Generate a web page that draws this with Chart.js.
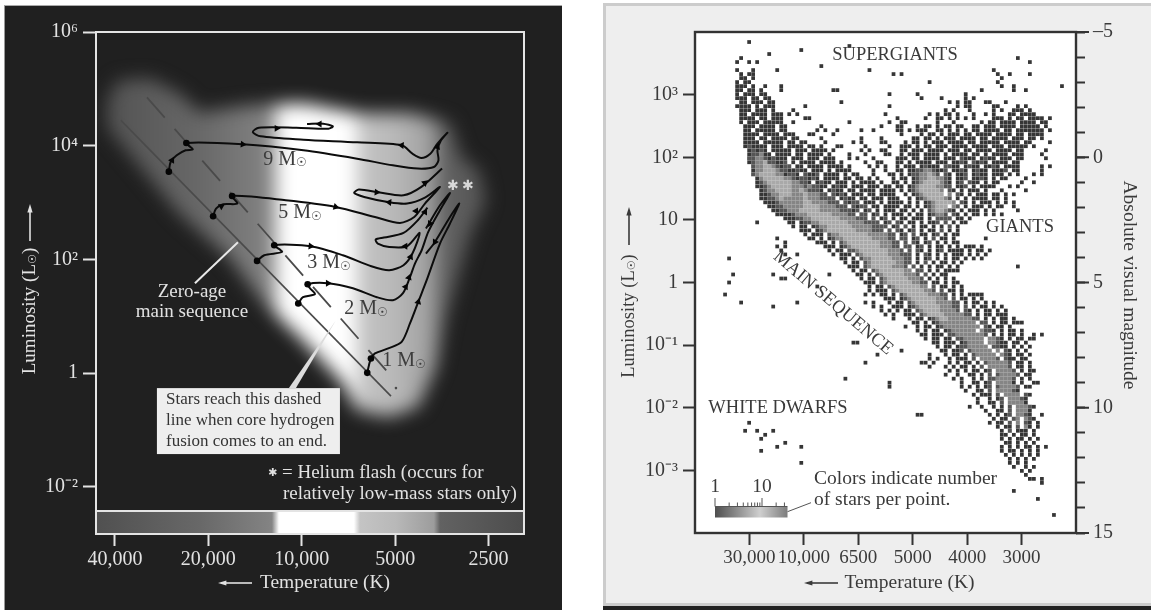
<!DOCTYPE html>
<html>
<head>
<meta charset="utf-8">
<title>HR diagrams</title>
<script src="https://cdn.jsdelivr.net/npm/chart.js@4"></script>
<style>
  html, body { margin: 0; padding: 0; background: #fff; width: 1151px; height: 610px; overflow: hidden; }
  .panel { position: absolute; box-sizing: border-box; }
  #darkPanel { left: 4px; top: 5px; width: 558px; height: 605px; background: #202020; border-left: 1px solid #999; border-top: 1px solid #aaa; }
  #lightPanel { left: 603px; top: 3px; width: 548px; height: 603px; background: #eee; border-left: 3px solid #ccc; border-top: 3px solid #ccc; border-bottom: 3px solid #ccc; }
  #bottomEdge { left: 603px; top: 606px; width: 548px; height: 4px; background: #222; }
  canvas { position: absolute; top: 0; filter: blur(0.55px); }
  #leftChart { left: 0; }
  #rightChart { left: 575px; }
</style>
</head>
<body>
<div class="panel" id="darkPanel"></div>
<div class="panel" id="lightPanel"></div>
<div class="panel" id="bottomEdge"></div>
<canvas id="leftChart" width="575" height="610" style="width:575px;height:610px"></canvas>
<canvas id="rightChart" width="576" height="610" style="width:576px;height:610px"></canvas>
<script>
// ---- left chart data, all in log10(T) and log10(L) ----
const tempTicksLeft = [40000, 20000, 10000, 5000, 2500];
const tempLabelsLeft = ['40,000', '20,000', '10,000', '5000', '2500'];
const lumTicksLeft = [1e6, 1e4, 1e2, 1, 1e-2];
const lumLabelsLeft = ['10⁶', '10⁴', '10²', '1', '10⁻²'];

const track9T = [4.4283,4.4225,4.4029,4.3742,4.3511,4.3719,4.1900,3.9943,3.8217,3.7066,3.6260,3.5742,3.5593,3.5627,3.5512,3.5305,3.5627,3.5857,3.6145,3.6433,3.6778,3.8217,3.9943,4.1325,4.1578,4.1383,4.0174,3.9138,3.8999,3.9310,3.9829];
const track9L = [3.544,3.714,3.831,3.919,3.936,4.048,4.024,3.919,3.772,3.655,3.597,3.626,3.743,3.919,4.095,4.229,4.036,3.860,3.784,3.860,4.007,4.059,4.106,4.165,4.241,4.317,4.317,4.300,4.341,4.388,4.382];
const track5T = [4.2856,4.2763,4.2533,4.2073,4.2245,4.0519,3.8908,3.7641,3.6836,3.6375,3.6030,3.5547,3.6030,3.6606,3.7181,3.7987,3.8309,3.8159,3.7526,3.6721,3.6145,3.5478];
const track5L = [2.759,2.894,2.970,2.982,3.116,3.040,2.923,2.747,2.642,2.747,2.982,3.275,3.087,2.982,3.005,3.099,3.169,3.228,3.181,3.128,3.275,3.597];
const track3T = [4.1440,4.1209,4.0634,4.0887,3.9713,3.8677,3.7757,3.7181,3.6721,3.6433,3.6202,3.6606,3.7181,3.7549,3.7618,3.7354,3.6721,3.6260,3.5950];
const track3L = [1.974,2.074,2.132,2.249,2.232,2.074,1.880,1.810,1.898,2.103,2.466,2.232,2.220,2.279,2.349,2.384,2.466,2.689,2.911];
const track2T = [4.0113,3.9961,3.9574,3.9736,3.9810,3.9156,3.8350,3.7576,3.7061,3.6738,3.6513,3.6352,3.6136,3.5923,3.5546,3.5223,3.5546,3.5997];
const track2L = [1.224,1.335,1.388,1.493,1.564,1.581,1.493,1.335,1.283,1.406,1.687,1.927,2.161,2.483,2.864,3.168,2.952,2.543];
const track1T = [3.7889,3.7834,3.7770,3.7641,3.7212,3.6780,3.6513,3.6245,3.5974,3.5546,3.5223,3.4924,3.5223,3.5707,3.5997];
const track1L = [0.005,0.140,0.258,0.346,0.434,0.550,0.873,1.253,1.634,2.279,2.631,2.982,2.747,2.307,2.101];

const dotT = [4.4283,4.3719,4.2856,4.2245,4.1440,4.0887,4.0113,3.9810,3.7889,3.7770];
const dotL = [3.544,4.048,2.759,3.116,1.974,2.249,1.224,1.564,0.005,0.258];

const arrowT = [4.190,3.678,4.0807,3.9425,3.5627,4.4179,3.8908,3.7584,3.7181,3.6030,3.6318,4.2591,3.9713,3.6663,3.6490,3.6029,3.9156,3.6651,3.6245,3.5868,3.5707,3.6545];
const arrowL = [4.024,4.007,4.305,4.382,3.977,3.743,2.923,3.181,3.005,3.345,2.853,2.935,2.232,2.232,2.044,2.834,1.581,1.517,1.253,2.631,2.307,1.681];
const arrowAngle = [95,275,90,270,20,30,105,95,275,50,30,60,95,270,25,30,90,30,15,210,210,20];

const zamsT = [4.5827, 3.7125];
const zamsL = [4.446, -0.405];
const endMsT = [4.4989, 3.7105];
const endMsL = [4.850, -0.06];
const endDotT = [3.6964];
const endDotL = [-0.264];
const leaderT = [4.2056, 4.3442];
const leaderL = [2.302, 1.581];

const massNames = ['9', '5', '3', '2', '1'];
const massT = [4.0541, 4.0058, 3.9123, 3.7931, 3.6706];
const massL = [3.761, 2.812, 1.933, 1.124, 0.210];
const flashT = [3.5127, 3.4643];
const flashL = [3.286, 3.286];

// outline of the lit band behind the tracks
const bandT = [4.628,4.592,4.489,4.396,4.328,4.167,3.993,3.822,3.648,3.522,3.487,3.429,3.406,3.455,3.535,3.567,3.625,3.719,3.822,3.867,4.006,4.122,4.235,4.396,4.512,4.628];
const bandL = [4.798,5.149,5.184,4.921,4.587,4.710,4.745,4.569,4.569,4.393,3.796,3.567,3.040,2.460,0.984,0.105,-0.598,-0.774,-0.651,-0.176,0.632,1.230,2.038,2.812,3.567,4.323];
// brightness along the temperature axis
const shadeT = [4.663,4.328,4.109,4.096,4.0735,3.8318,3.8124,3.6964,3.574,3.5546,3.284];
const shadeGray = [80,104,130,133,255,255,196,184,156,98,76];

const boxText = ['Stars reach this dashed', 'line when core hydrogen', 'fusion comes to an end.'];

// ---- right chart data ----
const tempLabelsRight = ['30,000', '10,000', '6500', '5000', '4000', '3000'];
const lumTicksRight = [1e3, 1e2, 10, 1, 0.1, 0.01, 0.001];
const lumLabelsRight = ['10³', '10²', '10', '1', '10⁻¹', '10⁻²', '10⁻³'];
const magLabels = { '-5': '–5', '0': '0', '5': '5', '10': '10', '15': '15' };
const legendCounts = [1,2,3,4,5,6,7,8,9,10,20,30];

// stars per point, binned: [row, first column, counts by column]
// 95 columns over the colour axis, 125 rows over log L, top row first
const binCols = 95, binRows = 125;
const densityBins = [
[2,13,'1'],[3,38,'1'],[4,26,'1'],[5,18,'1'],[6,11,'1'],[6,80,'1'],[7,10,'1'],[7,13,'1 1'],[7,83,'1'],[8,31,'1'],
[9,10,'1'],[9,14,'1'],[9,20,'1'],[9,43,'1'],[9,74,'1'],[10,11,'1 11'],[10,49,'1 1'],[10,75,'1  1'],[10,83,'1'],
[11,11,'11 1'],[11,76,'1'],[12,10,'1 11'],[12,58,'1'],[12,75,'1'],[13,10,'111 1  1'],[13,21,'1'],[13,76,'1'],[13,79,'1'],[13,91,'1'],
[14,10,'11 11 1'],[14,21,'1'],[14,34,'11'],[14,71,'1'],[14,79,'1'],[14,82,'1'],[15,10,'1 111 11'],[15,48,'1'],[15,55,'1'],[15,67,'1'],
[16,10,'111 11 11'],[16,56,'1'],[16,61,'1'],[16,67,'1'],[16,69,'1'],[17,11,'11 111 11'],[17,36,'1'],[17,63,'1'],[17,65,'1 11'],[17,72,'11'],[17,77,'1'],
[18,10,'1111 1 111'],[18,27,'1'],[18,48,'1'],[18,65,'1 11'],[18,74,'11'],[18,80,'1 1'],[19,11,'111 111 1'],[19,24,'1'],[19,62,'1 1'],[19,68,'1'],[19,74,'1 1'],[19,79,'111 1'],
[20,11,'11 1111 111'],[20,23,'1 1'],[20,47,'1'],[20,58,'1 1'],[20,62,'11 1'],[20,69,'1'],[20,72,'1 1'],[20,78,'11 1111'],
[21,11,'1111 11 111'],[21,27,'11'],[21,50,'1'],[21,57,'1'],[21,60,'11 1 1'],[21,67,'1 1'],[21,74,'111 1 11 1111 1'],
[22,11,'1 111 11111'],[22,24,'1'],[22,38,'1'],[22,48,'1'],[22,51,'11'],[22,60,'1'],[22,64,'1'],[22,71,'1 11 1111 1111 11'],
[23,12,'111 1111 11'],[23,31,'1'],[23,46,'1'],[23,50,'11'],[23,55,'1 11'],[23,60,'1 11 1'],[23,66,'1'],[23,69,'11 111 1111 11111 1'],
[24,12,'11 11111 11'],[24,30,'1 1'],[24,35,'1'],[24,41,'1'],[24,44,'1'],[24,50,'11'],[24,53,'1 111'],[24,60,'11 1'],[24,65,'1 1 11 1111 11 1111111 1'],
[25,12,'1111 1111 111'],[25,28,'11'],[25,34,'1'],[25,51,'1'],[25,56,'1 11 1 111 11 1111 1111 11 1111'],
[26,12,'111 11 1111 11'],[26,31,'1'],[26,41,'1'],[26,46,'1'],[26,54,'11 11 1 111 1111 11 1111 111 11 1'],
[27,12,'1111 11111 11 11'],[27,32,'1'],[27,39,'1 1'],[27,46,'11'],[27,52,'1 11 1 111 1111 11 11111 1111 11'],[27,88,'1'],
[28,12,'121111 111 1111 11 1'],[28,35,'11'],[28,42,'1'],[28,48,'1'],[28,51,'111 1 11 111 1111 1111 111 11111 1'],
[29,13,'12121 11111 111 1111'],[29,34,'1'],[29,41,'1 1'],[29,46,'11'],[29,51,'11 111 1111 111 11 1111 1111 11'],[29,87,'1'],
[30,13,'122311 1111 11 1111 1'],[30,38,'1'],[30,42,'1'],[30,47,'11'],[30,51,'1 111 1111 1 1111 11 1 1111 111'],[30,86,'1'],
[31,13,'2233212111 111 111 111'],[31,38,'1 1'],[31,44,'1'],[31,50,'111 11 1111 111 2111 1211 111 11'],[31,87,'1'],
[32,13,'1233422112 1 1111 1111 1'],[32,42,'1'],[32,45,'11'],[32,50,'11 1 1111 111 1121 2121 1111 11'],
[33,14,'2334432122 11 1111 1111 1'],[33,43,'1'],[33,45,'1 1'],[33,50,'1 111 12111 2211 1211 1121 1111'],[33,86,'1 1'],
[34,14,'13344432211211 111 1 1111'],[34,44,'1'],[34,47,'1'],[34,50,'11 1122332112 1121 1211 1112 11'],[34,86,'1'],
[35,14,'234444331221 2112 1111 1 11'],[35,44,'1'],[35,48,'11'],[35,51,'1 12233432 21 112 1211 111 1 1'],[35,84,'1 1'],
[36,15,'1344444332122121 1111 11 11'],[36,43,'1 1'],[36,49,'1 11 1233443321 112 1121 1 11'],[36,82,'1'],
[37,15,'12344444433221 1211 111 1 1111'],[37,46,'1'],[37,49,'11 1 1234444321 12 211 1 11'],[37,81,'1'],[37,84,'1'],
[38,15,'112344444333232211 1211 111 111 1'],[38,48,'1 11 12344443322 112 1 1111'],[38,78,'1 1'],
[39,16,'1233444433432221 1211 11 1111 11'],[39,48,'11 1 123444443 21 1 111 1'],[39,76,'1'],[39,82,'1'],
[40,16,'11233444333433322 2121 111 11 1111'],[40,52,'1 12344444 3 21 1 111 11'],[40,77,'1 1'],
[41,16,'1122343333343332222 1211 11 111 111'],[41,53,'1 123444432 1 1 1111 1'],[41,75,'1 1'],
[42,17,'1112333333443333222 2122 111 1 1111 1'],[42,55,'1 12344443 21 1 111 1'],[42,77,'1 1'],
[43,18,'11223333344443333222 2122 11 1111 11 1'],[43,57,'123444 32 1 111 1 11'],[43,79,'1'],
[44,19,'1122333444443333322212 12 1 111 11 1 1 2344321 1 111 1 1'],[44,80,'1'],
[45,20,'11112333444444333322 22 12 1 111 1 11 12332 21 1 11 1 1'],[45,76,'1'],
[46,22,'111223344444443333222 2 12 1 11 111 1 2222 11 1'],
[47,15,'1'],[47,23,'11 12233444444433332222 12 21 11 1 112 2 1 11'],
[48,24,'1 11 1233444444333332222 12 2 1 11 1 1 2 1'],
[49,26,'111 12344444443333222 2 21 12 1 11 2 1 1'],
[50,27,'1 111 23344444443333322 12 2 11 12 1 11'],
[51,20,'1'],[51,28,'11 1 12334444444333322 22 12 1 2 11 1'],[51,72,'1'],
[52,22,'1'],[52,30,'111 1 234444444433322 2 21 12 1 1 11'],
[53,20,'1 1'],[53,32,'111 123444444433322 22 12 1 11 1 1 111 1'],
[54,21,'1'],[54,33,'1 11 22344444443332 2 21 1 12 1 11 1 11 1'],[54,64,'1 1'],
[55,22,'1  1'],[55,34,'1 111 23444444333222 1 21 1 1 111 1 1 1'],
[56,8,'1'],[56,36,'11 1 2334444433322 1 12 1 1 11 1 1 1'],
[57,37,'1 11 234444443322 1 2 1 11 1 1'],
[58,38,'111 23444443332 2 1 1 11 1 1'],[58,80,'1'],
[59,39,'1 11 2344444433 22 1 1 11 1'],[59,64,'1'],
[60,9,'1'],[60,19,'1'],[60,33,'1'],[60,40,'11 1 23444443332 2 1 11'],[60,62,'1'],
[61,21,'11'],[61,41,'1 11 23444443332 1 1 1 1'],
[62,8,'1'],[62,42,'111 234444443322 11 1 1'],[62,65,'1'],
[63,30,'1'],[63,43,'1 11 2344444433 2 11 1 1'],
[64,43,'1 111 23444444332 2 11 1'],[64,66,'1'],
[65,7,'1'],[65,42,'1 1'],[65,46,'11 1 234444433322 1 1 11 1'],[65,70,'1'],
[66,47,'111 123444444332 2 11 1 1'],
[67,11,'1'],[67,25,'1'],[67,42,'1 1'],[67,48,'1 11 2344444333322 1 11 1 1'],
[68,19,'1'],[68,44,'1 1'],[68,49,'111 1234444433322 2 1 11 1 1'],
[69,46,'1 1'],[69,50,'1 11 23444433332 21 1 11 1 1'],
[70,47,'1 1'],[70,52,'111 2344443333322 1 11 1 1'],[70,76,'1'],
[71,49,'1'],[71,53,'1 11 1234433333322 1 1 11 1'],[71,76,'1'],
[72,54,'11 1 12333333333 22 1 11 1'],[72,80,'11'],
[73,52,'1'],[73,55,'1 11 12333333333 21 11 1'],
[74,55,'1 1 11 12333333 3221 1 11 1'],
[75,56,'11 111 2233333332 1 1 11 1'],[75,84,'1 1'],
[76,57,'1 11 11 2233333 3321 1 11 1'],[76,84,'1'],
[77,39,'11'],[77,59,'11 111 123333 33211 11 1'],
[78,60,'1 11 12233333 2211 1 1'],[78,83,'1'],
[79,51,'1'],[79,61,'11 112 233333 3 21 1 1'],
[80,45,'1'],[80,58,'1'],[80,62,'1 11 1 233333 321 11 1'],
[81,58,'1 1'],[81,63,'1 111 2 33332 211 11'],[81,78,'1'],
[82,42,'1'],[82,56,'11'],[82,59,'1'],[82,63,'1 1'],[82,67,'11 1 2333332 11 1'],
[83,58,'1'],[83,62,'1 1'],[83,66,'11 1 2 333332 11 1'],
[84,63,'1 1'],[84,67,'1 11 12 33332 1 11'],
[85,62,'1'],[85,65,'1'],[85,68,'11 1 2 233332 11'],
[86,37,'1'],[86,64,'1 1'],[86,69,'1 1 2233332 1 1'],
[87,48,'1'],[87,66,'1'],[87,69,'11 12 33331 1'],[87,84,'11'],
[88,48,'1'],[88,66,'1 1'],[88,70,'1 12 233332 11'],
[89,67,'1'],[89,70,'11 2 333321'],
[90,69,'1 1'],[90,72,'11 2 3333 21'],
[91,70,'1'],[91,73,'1 12 33321'],
[92,70,'1'],[92,73,'11 2 33331'],
[93,68,'1'],[93,71,'1'],[93,74,'1 1 2 33321'],
[94,72,'1'],[94,75,'11 2 3331'],
[95,55,'11'],[95,73,'1'],[95,75,'1 12 3321'],[95,86,'1'],
[96,74,'1 11 23 321'],
[97,13,'1'],[97,73,'1'],[97,75,'11 2 3 21 1'],
[98,75,'1 11 2 31 1'],
[99,12,'1'],[99,15,'1'],[99,19,'1'],[99,76,'1 2 111 1'],
[100,17,'1'],[100,76,'11 1 11 1'],
[101,16,'1'],[101,76,'1 1 11 1 1'],
[102,22,'1'],[102,77,'11 1 1 1'],
[103,20,'1'],[103,26,'1'],[103,76,'1 1 1 11 1 1'],
[104,16,'1'],[104,76,'1 11 1 1 1'],
[105,77,'1 1 1 1 1'],
[106,78,'1 1 1 1'],
[107,26,'1'],[107,78,'1 1 1'],
[108,79,'1'],[108,82,'1'],[108,84,'1'],
[109,81,'1'],[109,83,'1'],
[110,82,'1'],
[111,83,'11 1'],
[112,86,'1'],
[114,79,'1'],
[116,85,'1'],
[120,89,'1']
];

// ---- helpers ----
const serif = '"Liberation Serif", serif';
const sun = '"DejaVu Sans", sans-serif';
const unlog = (t, l) => t.map((v, i) => ({ x: 10 ** v, y: 10 ** l[i] }));

function trackSet(t, l) {
  return { data: unlog(t, l), showLine: true, borderColor: '#0c0c0c', borderWidth: 2, tension: 0.28, pointRadius: 0 };
}

// text made of several fonts on one line, centred or left aligned at x,y
function drawRuns(ctx, runs, x, y, opts) {
  const o = opts || {};
  ctx.save();
  ctx.translate(x, y);
  if (o.rot) ctx.rotate(o.rot);
  ctx.textBaseline = 'middle';
  ctx.textAlign = 'left';
  ctx.fillStyle = o.color || '#333';
  let w = 0;
  runs.forEach(r => { ctx.font = r.font; w += ctx.measureText(r.t).width; });
  let px = o.left ? 0 : -w / 2;
  runs.forEach(r => {
    ctx.font = r.font;
    ctx.fillText(r.t, px, r.dy || 0);
    px += ctx.measureText(r.t).width;
  });
  ctx.restore();
}

function drawArrow(ctx, x1, y1, x2, y2, color) {
  const a = Math.atan2(y2 - y1, x2 - x1);
  ctx.strokeStyle = color;
  ctx.fillStyle = color;
  ctx.lineWidth = 1.6;
  ctx.beginPath(); ctx.moveTo(x1, y1); ctx.lineTo(x2, y2); ctx.stroke();
  ctx.beginPath();
  ctx.moveTo(x2 + 3 * Math.cos(a), y2 + 3 * Math.sin(a));
  ctx.lineTo(x2 - 6 * Math.cos(a - 0.45), y2 - 6 * Math.sin(a - 0.45));
  ctx.lineTo(x2 - 6 * Math.cos(a + 0.45), y2 - 6 * Math.sin(a + 0.45));
  ctx.closePath(); ctx.fill();
}

function logAxisFixed(values, labels, extra) {
  return Object.assign({
    type: 'logarithmic',
    border: { display: false },
    afterBuildTicks: s => { s.ticks = values.map(v => ({ value: v })); },
  }, extra, {
    ticks: Object.assign({ autoSkip: false, maxRotation: 0, callback: (v, i) => labels[i] }, extra.ticks),
  });
}

// ---- left chart ----
const leftPaint = {
  id: 'leftPaint',
  beforeDatasetsDraw(chart) {
    const { ctx, chartArea: a, scales: { x, y } } = chart;
    const px = t => x.getPixelForValue(10 ** t);
    const py = l => y.getPixelForValue(10 ** l);
    const stripTop = py(-2.426);
    const grad = ctx.createLinearGradient(a.left, 0, a.right, 0);
    shadeT.forEach((t, i) => {
      const g = shadeGray[i];
      grad.addColorStop(Math.min(1, Math.max(0, (px(t) - a.left) / (a.right - a.left))), `rgb(${g},${g},${g})`);
    });

    ctx.save();
    ctx.beginPath(); ctx.rect(a.left, a.top, a.right - a.left, stripTop - a.top); ctx.clip();
    ctx.filter = 'blur(9px)';
    ctx.fillStyle = grad;
    ctx.beginPath();
    bandT.forEach((t, i) => { i ? ctx.lineTo(px(t), py(bandL[i])) : ctx.moveTo(px(t), py(bandL[i])); });
    ctx.closePath(); ctx.fill();
    ctx.restore();

    // temperature strip and white frame
    ctx.fillStyle = grad;
    ctx.fillRect(a.left, stripTop, a.right - a.left, a.bottom - stripTop);
    ctx.strokeStyle = '#e4e4e4';
    ctx.lineWidth = 2;
    ctx.strokeRect(a.left, a.top, a.right - a.left, a.bottom - a.top);
    ctx.beginPath(); ctx.moveTo(a.left, stripTop); ctx.lineTo(a.right, stripTop); ctx.stroke();
  },
  afterDatasetsDraw(chart) {
    const { ctx, scales: { x, y } } = chart;
    const px = t => x.getPixelForValue(10 ** t);
    const py = l => y.getPixelForValue(10 ** l);

    // pointer from the dashed line down to the note
    ctx.fillStyle = '#dcdcdc';
    ctx.beginPath();
    ctx.moveTo(px(3.8898), py(0.931));
    ctx.lineTo(px(4.0187), py(-0.264));
    ctx.lineTo(px(4.0413), py(-0.264));
    ctx.closePath(); ctx.fill();

    const bx = px(4.4667), by = py(-0.264);
    ctx.fillStyle = '#eeeeee';
    ctx.fillRect(bx, by, px(3.8769) - bx, py(-1.424) - by);
    boxText.forEach((line, i) => {
      drawRuns(ctx, [{ t: line, font: '17px ' + serif }], 166, 400 + i * 20.7, { left: true, color: '#333' });
    });

    massNames.forEach((m, i) => {
      drawRuns(ctx, [{ t: m + ' M', font: '20px ' + serif }, { t: '☉', font: '12px ' + sun, dy: 4 }], px(massT[i]), py(massL[i]), { color: '#3c3c3c' });
    });
    flashT.forEach((t, i) => {
      drawRuns(ctx, [{ t: '✱', font: '14px ' + sun }], px(t), py(flashL[i]), { color: '#d8d8d8' });
    });

    const white = '#e2e2e2';
    drawRuns(ctx, [{ t: 'Zero-age', font: '19px ' + serif }], 192, 292, { color: white });
    drawRuns(ctx, [{ t: 'main sequence', font: '19px ' + serif }], 192, 312, { color: white });
    drawRuns(ctx, [{ t: '✱', font: '11px ' + sun }, { t: ' = Helium flash (occurs for', font: '19px ' + serif }], 268, 473, { left: true, color: white });
    drawRuns(ctx, [{ t: 'relatively low-mass stars only)', font: '19px ' + serif }], 283, 494, { left: true, color: white });

    drawRuns(ctx, [{ t: 'Luminosity (L', font: '19px ' + serif }, { t: '☉', font: '11px ' + sun, dy: 3 }, { t: ')', font: '19px ' + serif }], 30, 311, { rot: -Math.PI / 2, color: white });
    drawArrow(ctx, 30, 241, 30, 207, white);
    drawRuns(ctx, [{ t: 'Temperature (K)', font: '19.5px ' + serif }], 325, 583, { color: white });
    drawArrow(ctx, 252, 583, 221, 583, white);
  },
};

new Chart(document.getElementById('leftChart'), {
  type: 'scatter',
  data: {
    datasets: [
      { data: unlog(dotT, dotL), pointRadius: 3.3, pointBackgroundColor: '#050505', pointBorderWidth: 0 },
      { data: unlog(arrowT, arrowL), pointStyle: 'triangle', pointRadius: 4, rotation: arrowAngle, pointBackgroundColor: '#050505', pointBorderWidth: 0 },
      trackSet(track9T, track9L),
      trackSet(track5T, track5L),
      trackSet(track3T, track3L),
      trackSet(track2T, track2L),
      trackSet(track1T, track1L),
      { data: unlog(zamsT, zamsL), showLine: true, borderColor: '#4a4a4a', borderWidth: 1.6, pointRadius: 0 },
      { data: unlog(endMsT, endMsL), showLine: true, borderColor: '#4a4a4a', borderWidth: 1.8, borderDash: [27, 15], pointRadius: 0 },
      { data: unlog(endDotT, endDotL), pointRadius: 1.3, pointBackgroundColor: '#4a4a4a', pointBorderWidth: 0 },
      { data: unlog(leaderT, leaderL), showLine: true, borderColor: '#e8e8e8', borderWidth: 2, pointRadius: 0 },
    ],
  },
  options: {
    responsive: false,
    animation: false,
    events: [],
    layout: { padding: { top: 32, right: 51 } },
    plugins: { legend: { display: false }, tooltip: { enabled: false } },
    scales: {
      x: logAxisFixed(tempTicksLeft, tempLabelsLeft, {
        reverse: true,
        min: 10 ** 3.2838,
        max: 10 ** 4.663,
        afterFit: s => { s.height = 76; },
        grid: { drawOnChartArea: false, color: '#e4e4e4', tickColor: '#e4e4e4', tickLength: 12, tickWidth: 2 },
        ticks: { color: '#e2e2e2', padding: 2, font: { family: 'Liberation Serif', size: 20 } },
      }),
      y: logAxisFixed(lumTicksLeft, lumLabelsLeft, {
        min: 10 ** -2.83,
        max: 1e6,
        afterFit: s => { s.width = 96; },
        grid: { drawOnChartArea: false, color: '#e4e4e4', tickColor: '#e4e4e4', tickLength: 13, tickWidth: 2 },
        ticks: { color: '#e2e2e2', padding: 5, font: { family: 'Liberation Serif', size: 20 } },
      }),
    },
  },
  plugins: [leftPaint],
});

// ---- right chart ----
const levelColors = { 1: '#363636', 2: '#555555', 3: '#858585', 4: '#a9a9a9' };
const levelRadius = { 1: 2.65, 2: 2.85, 3: 2.85, 4: 2.85 };

function binsForCount(count) {
  const pts = [];
  densityBins.forEach(([row, col, cells]) => {
    [...cells].forEach((c, k) => {
      if (Number(c) === count) {
        pts.push({
          x: -1 + (col + k + 0.5) * 7 / binCols,
          y: 10 ** (4 - (row + 0.5) * 8 / binRows),
        });
      }
    });
  });
  return pts;
}

const rightPaint = {
  id: 'rightPaint',
  beforeDatasetsDraw(chart) {
    const { ctx, chartArea: a } = chart;
    ctx.fillStyle = '#fff';
    ctx.fillRect(a.left, a.top, a.right - a.left, a.bottom - a.top);
  },
  afterDatasetsDraw(chart) {
    const { ctx, chartArea: a, scales: { y2 } } = chart;
    const dark = '#3a3a3a';
    const X = v => v - 575;

    ctx.strokeStyle = '#333';
    ctx.lineWidth = 2.4;
    ctx.strokeRect(a.left, a.top, a.right - a.left, a.bottom - a.top);

    // the multiples of five reach further out than the other ticks
    ctx.lineWidth = 2;
    y2.ticks.forEach(t => {
      if (t.value % 5 === 0) {
        const yy = y2.getPixelForValue(t.value);
        ctx.beginPath(); ctx.moveTo(a.right, yy); ctx.lineTo(a.right + 13, yy); ctx.stroke();
      }
    });

    const f = '18.5px ' + serif;
    const f2 = '19.5px ' + serif;
    drawRuns(ctx, [{ t: 'SUPERGIANTS', font: f }], X(895), 55, { color: dark });
    drawRuns(ctx, [{ t: 'GIANTS', font: f }], X(1020), 227, { color: dark });
    drawRuns(ctx, [{ t: 'WHITE DWARFS', font: f }], X(778), 408, { color: dark });
    drawRuns(ctx, [{ t: 'MAIN SEQUENCE', font: f }], X(833), 303, { color: dark, rot: 0.703 });
    drawRuns(ctx, [{ t: 'Colors indicate number', font: f2 }], X(814), 479, { color: dark, left: true });
    drawRuns(ctx, [{ t: 'of stars per point.', font: f2 }], X(814), 500, { color: dark, left: true });

    // colour key
    const kx = X(715), kw = 72.5, decade = 47;
    const g = ctx.createLinearGradient(kx, 0, kx + kw, 0);
    g.addColorStop(0, '#4e4e4e'); g.addColorStop(0.3, '#8c8c8c'); g.addColorStop(0.62, '#cfcfcf'); g.addColorStop(1, '#7c7c7c');
    ctx.fillStyle = g;
    ctx.fillRect(kx, 507, kw, 10.5);
    ctx.strokeStyle = '#555';
    ctx.lineWidth = 1;
    ctx.beginPath(); ctx.moveTo(kx, 506.5); ctx.lineTo(kx + kw, 506.5);
    legendCounts.forEach(c => {
      const kt = kx + Math.log10(c) * decade;
      ctx.moveTo(kt, 506.5);
      ctx.lineTo(kt, c === 1 || c === 10 ? 498 : 502.5);
    });
    ctx.moveTo(kx + kw, 511.7); ctx.lineTo(X(811), 502.7);
    ctx.stroke();
    drawRuns(ctx, [{ t: '1', font: f2 }], kx, 487, { color: dark });
    drawRuns(ctx, [{ t: '10', font: f2 }], kx + decade, 487, { color: dark });

    drawRuns(ctx, [{ t: 'Luminosity (L', font: f }, { t: '☉', font: '11px ' + sun, dy: 3 }, { t: ')', font: f }], X(629), 316, { rot: -Math.PI / 2, color: dark });
    drawArrow(ctx, X(629), 245, X(629), 210, dark);
    drawRuns(ctx, [{ t: 'Absolute visual magnitude', font: f2 }], X(1129), 285, { rot: Math.PI / 2, color: dark });
    drawRuns(ctx, [{ t: 'Temperature (K)', font: f2 }], X(909.5), 583, { color: dark });
    drawArrow(ctx, X(838), 583, X(807), 583, dark);
  },
};

new Chart(document.getElementById('rightChart'), {
  type: 'scatter',
  data: {
    datasets: [4, 3, 2, 1].map(n => ({
      data: binsForCount(n),
      pointStyle: 'rect',
      pointRadius: levelRadius[n],
      pointBackgroundColor: levelColors[n],
      pointBorderWidth: 0,
    })),
  },
  options: {
    responsive: false,
    animation: false,
    events: [],
    layout: { padding: { top: 32 } },
    plugins: { legend: { display: false }, tooltip: { enabled: false } },
    scales: {
      x: {
        type: 'linear',
        min: -1,
        max: 6,
        border: { display: false },
        afterBuildTicks: s => { s.ticks = tempLabelsRight.map((_, i) => ({ value: i })); },
        afterFit: s => { s.height = 77; },
        grid: { drawOnChartArea: false, tickColor: '#333', tickLength: 12, tickWidth: 2 },
        ticks: { color: '#3a3a3a', padding: 2, autoSkip: false, maxRotation: 0, font: { family: 'Liberation Serif', size: 19 }, callback: (v, i) => tempLabelsRight[i] },
      },
      y: logAxisFixed(lumTicksRight, lumLabelsRight, {
        min: 1e-4,
        max: 1e4,
        afterFit: s => { s.width = 120; },
        grid: { drawOnChartArea: false, tickColor: '#333', tickLength: 12, tickWidth: 2 },
        ticks: { color: '#3a3a3a', padding: 5, font: { family: 'Liberation Serif', size: 20 } },
      }),
      y2: {
        type: 'linear',
        position: 'right',
        reverse: true,
        min: -5,
        max: 15,
        border: { display: false },
        afterFit: s => { s.width = 75; },
        grid: { drawOnChartArea: false, tickColor: '#333', tickLength: 9, tickWidth: 2 },
        ticks: { stepSize: 1, autoSkip: false, color: '#3a3a3a', padding: 8, font: { family: 'Liberation Serif', size: 20 }, callback: v => magLabels[v] || '' },
      },
    },
  },
  plugins: [rightPaint],
});
</script>
</body>
</html>
